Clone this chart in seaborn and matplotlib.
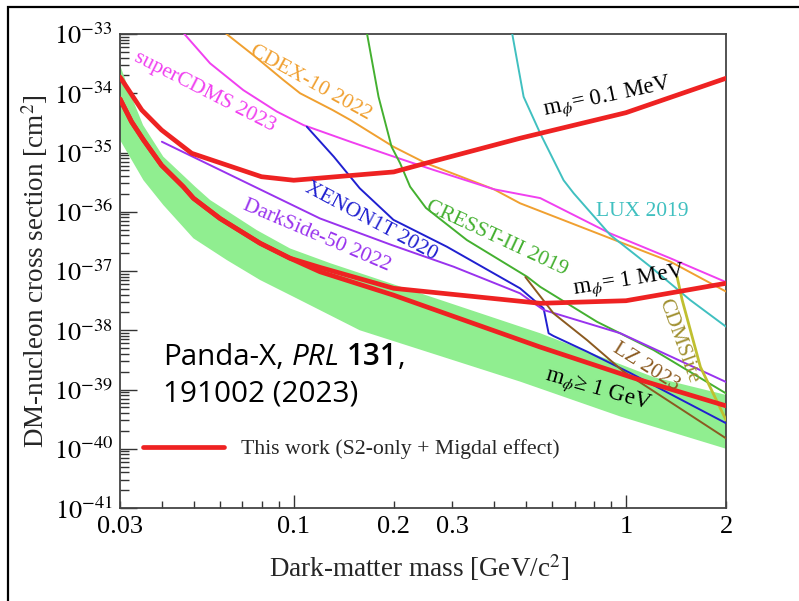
import numpy as np
import pandas as pd
import matplotlib
matplotlib.use("Agg")
import matplotlib.pyplot as plt
import seaborn as sns
from matplotlib import transforms as mtransforms
from matplotlib.patches import Rectangle
from matplotlib.lines import Line2D
from matplotlib.ticker import FixedLocator, FixedFormatter, NullFormatter

# ---------------- data (mass in GeV/c^2, cross section in cm^2) ----------------
band_upper_x = [0.03, 0.0322, 0.0352, 0.0405, 0.0505, 0.056, 0.0774, 0.0975, 0.129, 0.552, 1.21, 2.0]
band_upper_y = [3.0e-34, 1.0e-34, 2.9e-35, 8.5e-36, 2.65e-36, 1.58e-36, 4.9e-37, 2.4e-37, 1.35e-37, 8.9e-39, 1.62e-39, 8.1e-40]
band_lower_x = [0.03, 0.0353, 0.0405, 0.0499, 0.0629, 0.0792, 0.102, 0.158, 0.48, 0.962, 2.0]
band_lower_y = [1.63e-35, 3.4e-36, 1.3e-36, 3.56e-37, 1.53e-37, 7.05e-38, 3.46e-38, 1.0e-38, 1.36e-39, 3.5e-40, 1.0e-40]

red01_x = [0.03, 0.0349, 0.040, 0.0493, 0.080, 0.10, 0.20, 0.25, 0.48, 1.0, 2.0]
red01_y = [1.88e-34, 5.2e-35, 2.4e-35, 9.7e-36, 3.9e-36, 3.4e-36, 4.7e-36, 6.6e-36, 1.74e-35, 4.7e-35, 1.79e-34]

red1_x = [0.03, 0.0325, 0.0353, 0.040, 0.0465, 0.0499, 0.06, 0.0792, 0.0975, 0.12, 0.20, 0.552, 1.0, 2.0]
red1_y = [8.0e-35, 3.3e-35, 1.63e-35, 6.1e-36, 2.65e-36, 1.69e-36, 7.7e-37, 2.94e-37, 1.64e-37, 1.15e-37, 5.1e-38, 2.85e-38, 3.15e-38, 6.2e-38]

redG_x = [0.03, 0.0325, 0.0353, 0.040, 0.0465, 0.0499, 0.06, 0.0792, 0.0975, 0.12, 0.20, 0.552, 1.06, 2.0]
redG_y = [8.0e-35, 3.3e-35, 1.63e-35, 6.1e-36, 2.65e-36, 1.69e-36, 7.7e-37, 2.94e-37, 1.64e-37, 9.7e-38, 3.9e-38, 5.2e-39, 1.55e-39, 5.3e-40]

scdms_x = [0.0465, 0.056, 0.0705, 0.089, 0.107, 0.148, 0.204, 0.263, 0.40, 0.552, 0.897, 1.36, 2.0]
scdms_y = [1.05e-33, 3.2e-34, 1.13e-34, 4.9e-35, 2.9e-35, 1.52e-35, 8.2e-36, 5.1e-36, 2.4e-36, 1.7e-36, 4.3e-37, 1.64e-37, 6.5e-38]

cdex_x = [0.0625, 0.0756, 0.0931, 0.1045, 0.131, 0.148, 0.1996, 0.25, 0.40, 0.48, 0.897, 1.36, 2.0]
cdex_y = [1.02e-33, 4.4e-34, 1.67e-34, 1.0e-34, 5.2e-35, 3.54e-35, 1.25e-35, 6.6e-36, 2.4e-36, 1.39e-36, 3.56e-37, 1.44e-37, 4.5e-38]

cresst_x = [0.166, 0.18, 0.197, 0.209, 0.224, 0.25, 0.332, 0.504, 0.552, 0.818, 1.21, 2.0]
cresst_y = [1.05e-33, 8.7e-35, 1.25e-35, 6.6e-36, 2.65e-36, 1.16e-36, 3.33e-37, 8.0e-38, 5.4e-38, 1.39e-38, 4.65e-39, 8.6e-40]

lux_x = [0.454, 0.492, 0.552, 0.649, 0.696, 0.897, 1.185, 1.56, 2.0]
lux_y = [1.05e-33, 8.7e-35, 2.1e-35, 3.4e-36, 2.05e-36, 4.05e-37, 1.18e-37, 3.24e-38, 1.15e-38]

xenon_x = [0.1095, 0.132, 0.158, 0.1996, 0.289, 0.48, 0.565, 0.585, 0.605, 0.764, 1.03, 2.0]
xenon_y = [2.72e-35, 8.5e-36, 2.49e-36, 7.3e-37, 2.57e-37, 5.1e-38, 2.34e-38, 8.9e-39, 8.0e-39, 4.35e-39, 1.9e-39, 2.7e-40]

darkside_x = [0.0401, 0.12, 0.197, 0.303, 0.48, 0.565, 0.962, 2.0]
darkside_y = [1.52e-35, 7.7e-37, 2.75e-37, 1.18e-37, 4.2e-38, 2.2e-38, 8.9e-39, 1.34e-39]

lz_x = [0.498, 0.605, 0.764, 0.984, 2.0]
lz_y = [7.9e-38, 1.93e-38, 6.8e-39, 2.0e-39, 1.5e-40]

cdmslite_x = [1.425, 1.476, 1.675, 2.0]
cdmslite_y = [8.0e-38, 3.24e-38, 2.4e-39, 3.05e-40]

x_major_ticks = [0.1, 1.0]
x_major_labels = ["0.1", "1"]
x_minor_ticks = [0.03, 0.04, 0.05, 0.06, 0.07, 0.08, 0.09, 0.2, 0.3, 0.4, 0.5, 0.6, 0.7, 0.8, 0.9, 2.0]
x_minor_labels = ["0.03", "", "", "", "", "", "", "0.2", "0.3", "", "", "", "", "", "", "2"]
y_exponents = [-41, -40, -39, -38, -37, -36, -35, -34, -33]
y_major_labels = [r"$10^{%d}$" % e for e in y_exponents]

# ---------------- style ----------------
sns.set_theme(style="white")
plt.rcParams["font.family"] = ["Liberation Serif", "DejaVu Serif"]
plt.rcParams["mathtext.fontset"] = "stix"

W, H = 799, 601
fig = plt.figure(figsize=(W / 100, H / 100), dpi=100)
fig.patch.set_facecolor("white")
ax = fig.add_axes([120 / W, 1 - 508 / H, 606 / W, 474 / H])
ax.set_xscale("log")
ax.set_yscale("log")

RED = "#ee2222"

# green band
poly_x = np.concatenate([band_upper_x, band_lower_x[::-1]])
poly_y = np.concatenate([band_upper_y, band_lower_y[::-1]])
ax.fill(poly_x, poly_y, color="#90ee90", lw=0, zorder=1)

curves = [
    (cdex_x, cdex_y, "#f0a030", 1.4),
    (scdms_x, scdms_y, "#f040f0", 1.4),
    (cresst_x, cresst_y, "#44b030", 1.4),
    (lux_x, lux_y, "#40c0c0", 1.4),
    (xenon_x, xenon_y, "#2020d0", 1.4),
    (darkside_x, darkside_y, "#9933ee", 1.4),
    (lz_x, lz_y, "#8b5a20", 1.4),
    (cdmslite_x, cdmslite_y, "#c0c030", 2.0),
    (red01_x, red01_y, RED, 3.4),
    (red1_x, red1_y, RED, 3.4),
    (redG_x, redG_y, RED, 3.4),
]
for i, (xs, ys, c, lw) in enumerate(curves):
    df = pd.DataFrame({"mass": xs, "xsec": ys})
    sns.lineplot(data=df, x="mass", y="xsec", ax=ax, color=c, lw=lw,
                 sort=False, estimator=None, zorder=3 + i)

ax.set_xlim(0.03, 2.0)
ax.set_ylim(1e-41, 1e-33)

# ticks
ax.xaxis.set_major_locator(FixedLocator(x_major_ticks))
ax.xaxis.set_major_formatter(FixedFormatter(x_major_labels))
ax.xaxis.set_minor_locator(FixedLocator(x_minor_ticks))
ax.xaxis.set_minor_formatter(FixedFormatter(x_minor_labels))
ax.yaxis.set_major_locator(FixedLocator([10.0 ** e for e in y_exponents]))
ax.yaxis.set_major_formatter(FixedFormatter(y_major_labels))
y_minor = [m * 10.0 ** e for e in y_exponents[:-1] for m in range(2, 10)]
ax.yaxis.set_minor_locator(FixedLocator(y_minor))
ax.yaxis.set_minor_formatter(NullFormatter())

ax.tick_params(axis="x", which="major", direction="in", length=9.5, width=1.0,
               labelsize=19, pad=5.5, top=False, bottom=True, colors="#333333",
               labelcolor="black")
ax.tick_params(axis="x", which="minor", direction="in", length=5, width=1.0,
               labelsize=19, pad=5.5, top=False, bottom=True, colors="#333333",
               labelcolor="black")
ax.tick_params(axis="y", which="major", direction="in", length=12, width=1.0,
               labelsize=19, pad=5, right=False, left=True, colors="#333333",
               labelcolor="black")
ax.tick_params(axis="y", which="minor", direction="in", length=6.5, width=1.0,
               right=False, left=True, colors="#333333")
for s in ax.spines.values():
    s.set_color("#444444")
    s.set_linewidth(1.3)
    s.set_visible(True)

ax.set_xlabel(r"Dark-matter mass [GeV/c$^{2}$]", fontsize=19.5)
ax.set_ylabel(r"DM-nucleon cross section [cm$^{2}$]", fontsize=19.5)
ax.xaxis.set_label_coords(0.493, -0.092)
ax.yaxis.set_label_coords(-0.1155, 0.5)

# curve labels (positions given in figure pixels of the layout)
def axfrac(px, py):
    return ((px - 120) / 606, (508 - py) / 474)

labels = [
    ("superCDMS 2023", 205, 92, -27, "#f040f0", 15.5),
    ("CDEX-10 2022", 310, 83, -29, "#f0a030", 15.5),
    ("XENON1T 2020", 371, 222, -28, "#2020d0", 15.5),
    ("DarkSide-50 2022", 317, 236, -23, "#9933ee", 15.5),
    ("CRESST-III 2019", 497, 238, -25, "#44b030", 15.5),
    ("LUX 2019", 642, 211, 0, "#40c0c0", 15.5),
    ("LZ 2023", 646, 367, -32, "#8b5a20", 15.5),
    ("CDMSlite", 678, 341, -70, "#a09030", 15.5),
    (r"m$_{\phi}$= 0.1 MeV", 607, 97, 12, "black", 16.5),
    (r"m$_{\phi}$= 1 MeV", 629, 281, 9, "black", 16.5),
    (r"m$_{\phi}$≥ 1 GeV", 598, 390, -16, "black", 16.5),
]
for txt, px, py, rot, c, fs in labels:
    ax.text(*axfrac(px, py), txt, transform=ax.transAxes, rotation=rot,
            rotation_mode="anchor", ha="center", va="center", color=c,
            fontsize=fs, zorder=20)

# legend
handle = Line2D([], [], color=RED, lw=3.4)
ax.legend([handle], ["This work (S2-only + Migdal effect)"], loc="center left",
          bbox_to_anchor=axfrac(143, 449), frameon=False, borderpad=0,
          borderaxespad=0, handlelength=3.7, handletextpad=0.78, fontsize=15.7)

# Panda-X citation text with mixed styles
renderer = fig.canvas.get_renderer()
fs_p = 21.3
space = 0.26 * fs_p * 100 / 72
parts = [("Panda-X,", "normal", "normal", True),
         ("PRL", "italic", "normal", True),
         ("131", "normal", "semibold", False),
         (",", "normal", "normal", False)]
tr = fig.transFigure
for s, st, wt, sp in parts:
    t = fig.text(163 / W, 1 - 365 / H, s, transform=tr, fontsize=fs_p,
                 family=["Open Sans", "DejaVu Sans"], style=st, weight=wt,
                 va="baseline", ha="left", color="black")
    ex = t.get_window_extent(renderer)
    tr = mtransforms.offset_copy(t.get_transform(), x=ex.width + (space if sp else 0),
                                 units="dots")
fig.text(163 / W, 1 - 402 / H, "191002 (2023)", fontsize=fs_p,
         family=["Open Sans", "DejaVu Sans"], va="baseline", ha="left", color="black")

# outer frame
fig.add_artist(Rectangle((8 / W, -0.05), 1.2, (1 - 7 / H) + 0.05,
                         transform=fig.transFigure, fill=False, ec="black", lw=1.6))

fig.savefig("out.png", dpi=100)
